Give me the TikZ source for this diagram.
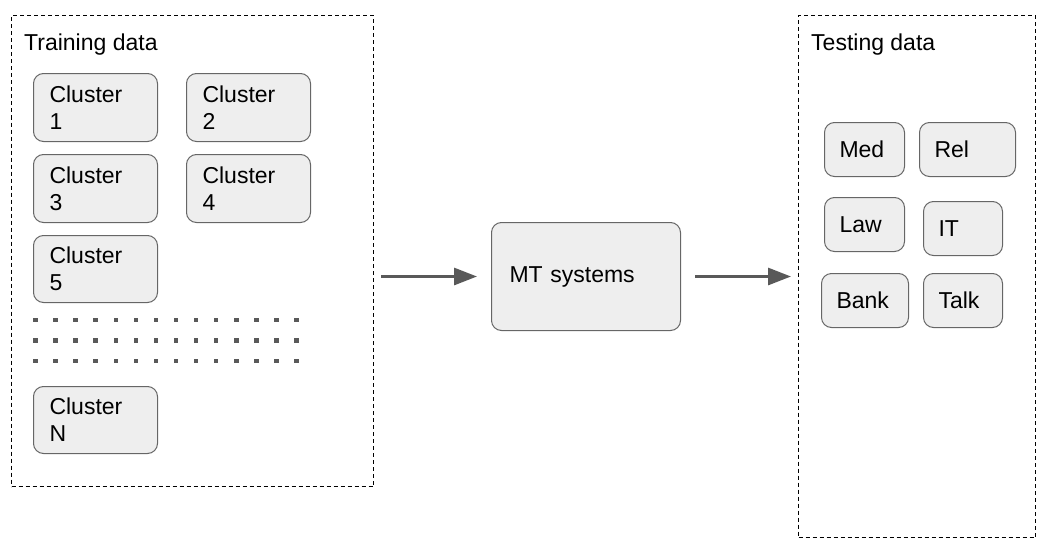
\documentclass[tikz,border=0pt]{standalone}
\usepackage{fontspec}
\setmainfont{Liberation Sans}
\usetikzlibrary{arrows.meta}

\definecolor{boxfill}{HTML}{EEEEEE}
\definecolor{boxline}{HTML}{666666}
\definecolor{arrowgray}{HTML}{595959}

\tikzset{
	txt/.style={font=\fontsize{23}{27}\selectfont},
	frame/.style={draw=black, dash pattern=on 4pt off 3pt, line width=1pt, anchor=north west, inner sep=0pt},
	databox/.style={txt, draw=boxline, fill=boxfill, rounded corners=10pt, line width=1pt, anchor=north west, inner xsep=16pt, inner ysep=0pt, align=left},
	testbox/.style={databox, inner xsep=15pt, minimum height=54pt},
	flow/.style={draw=arrowgray, line width=3pt, -{Triangle[length=23pt,width=17pt]}}
}

\begin{document}
\begin{tikzpicture}[x=1pt,y=-1pt]
	\useasboundingbox (0,0) rectangle (1060,554);

	% Training data
		\node[frame, minimum width=362pt, minimum height=471pt] (train) at (11,15) {};
		\node[txt, anchor=base west, inner sep=0pt] (trainlbl) at (24,50) {Training data};

		\node[databox, text width=92pt, minimum height=68pt] (c1) at (33,73) {Cluster\\1};
		\node[databox, text width=92pt, minimum height=68pt] (c2) at (186,73) {Cluster\\2};
		\node[databox, text width=92pt, minimum height=68pt] (c3) at (33,154) {Cluster\\3};
		\node[databox, text width=92pt, minimum height=68pt] (c4) at (186,154) {Cluster\\4};
		\node[databox, text width=92pt, minimum height=67pt] (c5) at (33,235) {Cluster\\5};
		\node[databox, text width=92pt, minimum height=67pt] (cN) at (33,386) {Cluster\\N};

		% dots
		\foreach \y in {320,340.5,361}
			\foreach \i in {0,...,13}
				\fill[arrowgray] ({35.3+20.1*\i-2.2},\y-2.2) rectangle ++(4.4,4.4);

	% MT systems
		\node[databox, inner xsep=18pt, text width=153pt, minimum height=108pt] (mt) at (491,222) {MT systems};

	% Testing data
		\node[frame, minimum width=237pt, minimum height=522pt] (test) at (798,15) {};
		\node[txt, anchor=base west, inner sep=0pt] (testlbl) at (811,50) {Testing data};

		\node[testbox, text width=50pt] (med) at (824,122) {Med};
		\node[testbox, text width=66pt] (rel) at (919,122) {Rel};
		\node[testbox, text width=50pt] (law) at (824,197) {Law};
		\node[testbox, text width=49pt] (it) at (923,201) {IT};
		\node[testbox, text width=57pt] (bank) at (821,273) {Bank};
		\node[testbox, text width=49pt] (talk) at (923,273) {Talk};

	% Arrows
		\draw[flow, shorten <=7pt, shorten >=14pt] (mt.west -| train.east) -- (mt.west);
		\draw[flow, shorten <=14pt, shorten >=7pt] (mt.east) -- (mt.east -| test.west);
\end{tikzpicture}
\end{document}
